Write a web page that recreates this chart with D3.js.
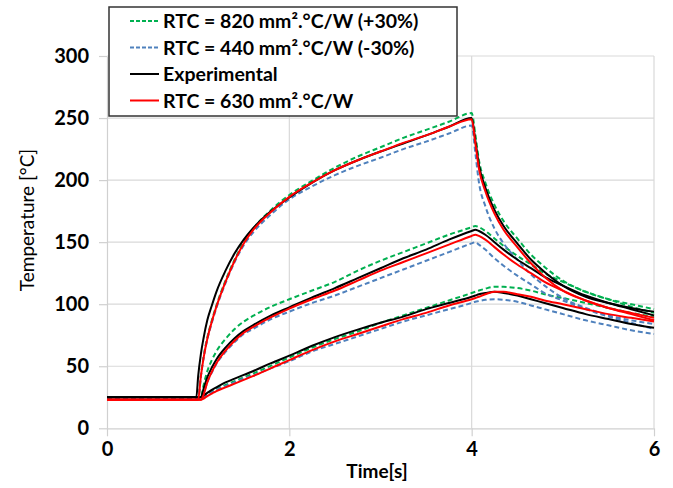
<!DOCTYPE html>
<html>
<head>
<meta charset="utf-8">
<script src="https://cdn.jsdelivr.net/npm/d3@7"></script>
<style>
  body { margin: 0; background: #fff; }
  text { font-family: Lato, "Open Sans", sans-serif; }
</style>
</head>
<body>
<div id="chart"></div>
<script>
// defaults
var width = 673,
    height = 488,
    plot = { left: 107, right: 654, top: 56, bottom: 428.3 };

// data (time in s, temperature in °C)
var time = [0, 0.98, 1.0, 1.03, 1.06, 1.1, 1.15, 1.2, 1.3, 1.4,
            1.5, 1.6, 1.8, 2.0, 2.25, 2.5, 2.75, 3.0, 3.25, 3.5, 3.75,
            4.0, 4.04, 4.08, 4.15, 4.25, 4.35, 4.5, 4.65, 4.8, 5.0,
            5.25, 5.5, 5.75, 6.0];

// upper curves
var topExp  = [25,25,42,60,73,87,99,110,127,141, 152,161,175,186,198,208,216,223,229.5,236,243, 250,232,212,194,176,163,149,136,126,115, 106,101,97,94];
var top630  = [23,23,23,42,57,72,86,98,118,135, 149,159.5,174.5,186.5,198,208,216,223,230,236,243, 249,230,209,191,173,160,146,133,122,111, 103,97,93,89];
var top820  = [24,24,24,43,58,73,87,99,119,136, 150,160.5,176,188,199.5,210,219,226.5,234,240.5,247, 254,237,216,198,180,167,153,140,130,119, 110,104,100,96];
var top440  = [24,24,24,42,57,71.5,85,97,117,134, 147.5,157.5,172.5,184.5,195,204,211.5,218,225,231,237.5, 244,222,198,179,161,149,136,124,115,105, 97,91,87,84];

// middle curves
var midExp  = [25,25,25,25,32,41,49,55.5,65,72.5, 78.5,83,91,97.5,105.5,113,121,129,137,144,152, 159,160,159,156,150,144,136,129,122,115, 107,101,96,91];
var mid630  = [23,23,23,23,27,37,45.5,52.5,62.5,70.5, 77,81.5,89.5,96.5,104,111,119,127,134,141,148, 155,156,155,152,146,140,132,125,118,111, 103,97,92,87];
var mid820  = [24,24,24,25,35,46,55,62,72,80, 86,90.5,98,104,111,118,127,135,142,149,156, 162,163,162,159,153,147,139,132,125,118, 110,104,98,93];
var mid440  = [24,24,24,24,28,37,45,52,61.5,69.5, 76,80,88,94,101,107,114,121,128,135,142, 149,150,148,144,137,131,123,116,109,103, 96,90,85,80];

// lower curves
var lowExp  = [25,25,25,25,26.5,28.5,31,33,37,40, 43,46,52.5,58.5,66.5,73.5,79.5,85,90,96,101, 106,107,108,109,110,109,107,104,101,97, 92,88,84,81];
var low630  = [23,23,23,23,24,26,28,30,33,36, 39,42,48.5,55,63,70,76,82,88,93,99, 104,105,106,108,110,110,108,106,103,100, 96,92,89,86];
var low820  = [24,24,24,24,26,28,30,32,35,38, 41,44,50.5,57,65,72,78,85,91,97,103, 109,110,111,112.5,114,114,113,111,108,105, 101,97,93,90];
var low440  = [24,24,24,24,25,27,29,31,34,37, 40,42.5,48.5,54,62,68,74,80,86,91,96, 101,102,102.5,103.5,104,103.5,102,99,96,92, 87,83,79,76];

var xTicks = [0, 2, 4, 6];
var yTicks = [0, 50, 100, 150, 200, 250, 300];

var legendLabels = ["RTC = 820 mm².°C/W (+30%)",
    "RTC = 440 mm².°C/W (-30%)",
    "Experimental",
    "RTC = 630 mm².°C/W"];

var colors = ["#00b050", "#4f81bd", "#000000", "#ff0000"];
var dashes = ["5,3", "5,3", null, null];

// grouped per series type, drawn in legend order
var seriesGroups = [
    [top820, mid820, low820],
    [top440, mid440, low440],
    [topExp, midExp, lowExp],
    [top630, mid630, low630]
];

var svg = d3.select("#chart")
    .append("svg")
    .attr("width", width)
    .attr("height", height);

var x = d3.scaleLinear().domain([0, 6]).range([plot.left, plot.right]);
var y = d3.scaleLinear().domain([0, 300]).range([plot.bottom, plot.top]);

// gridlines
svg.append("g")
    .selectAll("line")
    .data(yTicks.filter(function (d) { return d > 0; }))
    .enter()
    .append("line")
    .attr("x1", plot.left)
    .attr("x2", plot.right)
    .attr("y1", function (d) { return y(d); })
    .attr("y2", function (d) { return y(d); })
    .style("stroke", "#d9d9d9")
    .style("stroke-width", 1.2);

svg.append("g")
    .selectAll("line")
    .data(xTicks.filter(function (d) { return d > 0; }))
    .enter()
    .append("line")
    .attr("x1", function (d) { return x(d); })
    .attr("x2", function (d) { return x(d); })
    .attr("y1", plot.top)
    .attr("y2", plot.bottom)
    .style("stroke", "#d9d9d9")
    .style("stroke-width", 1.2);

// axes
var yAxis = svg.append("g")
    .attr("transform", "translate(" + plot.left + ",0)")
    .call(d3.axisLeft(y).tickValues(yTicks).tickSize(8).tickPadding(10).tickSizeOuter(0));

var xAxis = svg.append("g")
    .attr("transform", "translate(0," + plot.bottom + ")")
    .call(d3.axisBottom(x).tickValues(xTicks).tickFormat(d3.format("d"))
        .tickSize(8).tickPadding(6).tickSizeOuter(0));

[yAxis, xAxis].forEach(function (ax) {
    ax.select(".domain").style("stroke", "#d0d0d0").style("stroke-width", 1.2);
    ax.selectAll(".tick line").style("stroke", "#d0d0d0").style("stroke-width", 1.2);
    ax.selectAll(".tick text")
        .style("font-family", "Lato, sans-serif")
        .style("font-size", "20px")
        .style("font-weight", "bold")
        .style("fill", "#000");
});

// axis titles
svg.append("text")
    .attr("x", 377)
    .attr("y", 478)
    .attr("text-anchor", "middle")
    .style("font-size", "19px")
    .style("font-weight", "bold")
    .text("Time[s]");

svg.append("text")
    .attr("transform", "translate(26,220) rotate(-90)")
    .attr("text-anchor", "middle")
    .attr("dominant-baseline", "central")
    .style("font-size", "19px")
    .text("Temperature [°C]");

// curves
var line = d3.line()
    .x(function (d, i) { return x(time[i]); })
    .y(function (d) { return y(d); })
    .curve(d3.curveMonotoneX);

seriesGroups.forEach(function (group, k) {
    svg.append("g")
        .selectAll("path")
        .data(group)
        .enter()
        .append("path")
        .attr("d", line)
        .style("fill", "none")
        .style("stroke", colors[k])
        .style("stroke-width", 2)
        .style("stroke-dasharray", dashes[k]);
});

// legend
var legend = svg.append("g");

legend.append("rect")
    .attr("x", 109)
    .attr("y", 7)
    .attr("width", 348)
    .attr("height", 109)
    .style("fill", "#fff")
    .style("stroke", "#333")
    .style("stroke-width", 1.5);

var rows = legend.selectAll(".row")
    .data(legendLabels)
    .enter()
    .append("g")
    .attr("class", "row")
    .attr("transform", function (d, i) { return "translate(0," + (21 + i * 26.5) + ")"; });

rows.append("line")
    .attr("x1", 130)
    .attr("x2", 159)
    .style("stroke", function (d, i) { return colors[i]; })
    .style("stroke-width", 2)
    .style("stroke-dasharray", function (d, i) { return dashes[i] ? "4,2" : null; });

rows.append("text")
    .attr("x", 163)
    .attr("y", 7)
    .style("font-size", "19.5px")
    .style("font-weight", "bold")
    .text(function (d) { return d; });
</script>
</body>
</html>
